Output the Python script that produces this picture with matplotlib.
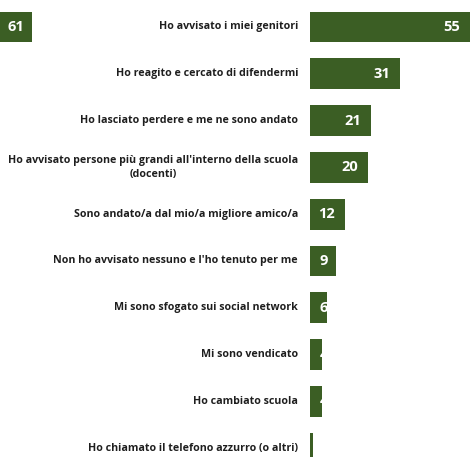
import matplotlib
matplotlib.use('Agg')
import matplotlib.pyplot as plt

plt.rcParams['font.family'] = ['Open Sans', 'DejaVu Sans']

categories = [
	'Ho avvisato i miei genitori',
	'Ho reagito e cercato di difendermi',
	'Ho lasciato perdere e me ne sono andato',
	'Ho avvisato persone più grandi all\'interno della scuola\n(docenti)',
	'Sono andato/a dal mio/a migliore amico/a',
	'Non ho avvisato nessuno e l\'ho tenuto per me',
	'Mi sono sfogato sui social network',
	'Mi sono vendicato',
	'Ho cambiato scuola',
	'Ho chiamato il telefono azzurro (o altri)',
]
values = [55, 31, 21, 20, 12, 9, 6, 4, 4, 1]
left_values = [61]  # only visible bar of the neighbouring panel

green = '#3b5e24'
W, H = 472, 457
px_unit = 2.91  # pixels per unit on the value axis

fig = plt.figure(figsize=(W / 100, H / 100), dpi=100)

# right panel: the bars
ax = fig.add_axes([310 / W, 0, (W - 310) / W, 1])
ax.set_xlim(0, (W - 310) / px_unit)
top = -27 / 46.8
ax.set_ylim(top + H / 46.8, top)
ax.axis('off')

ys = list(range(len(values)))
bars = ax.barh(ys, values, height=0.66, color=green)

for y, v, cat, bar in zip(ys, values, categories, bars):
	ax.text(-12 / px_unit, y, cat, ha='right', va='center', multialignment='center',
		fontsize=7.7, fontweight='bold', color='#1e1e1e', clip_on=False, linespacing=1.3)
	if v >= 10:
		t = ax.text(v - 3.4, y, str(v), ha='right', va='center', fontsize=10.5,
			fontweight='bold', color='white')
	else:
		t = ax.text(3.4, y, str(v), ha='left', va='center', fontsize=10.5,
			fontweight='bold', color='white')
	t.set_clip_path(bar)

# left panel: cut off edge of the neighbouring chart
ax2 = fig.add_axes([0, 0, 32 / W, 1])
ax2.set_xlim(left_values[0] - 32 / px_unit, left_values[0])
ax2.set_ylim(top + H / 46.8, top)
ax2.axis('off')
lb = ax2.barh([0], left_values, height=0.66, color=green)
ax2.text(left_values[0] - 24 / px_unit, 0, str(left_values[0]), ha='left', va='center',
	fontsize=10.5, fontweight='bold', color='white')

fig.savefig('out.png', dpi=100)
